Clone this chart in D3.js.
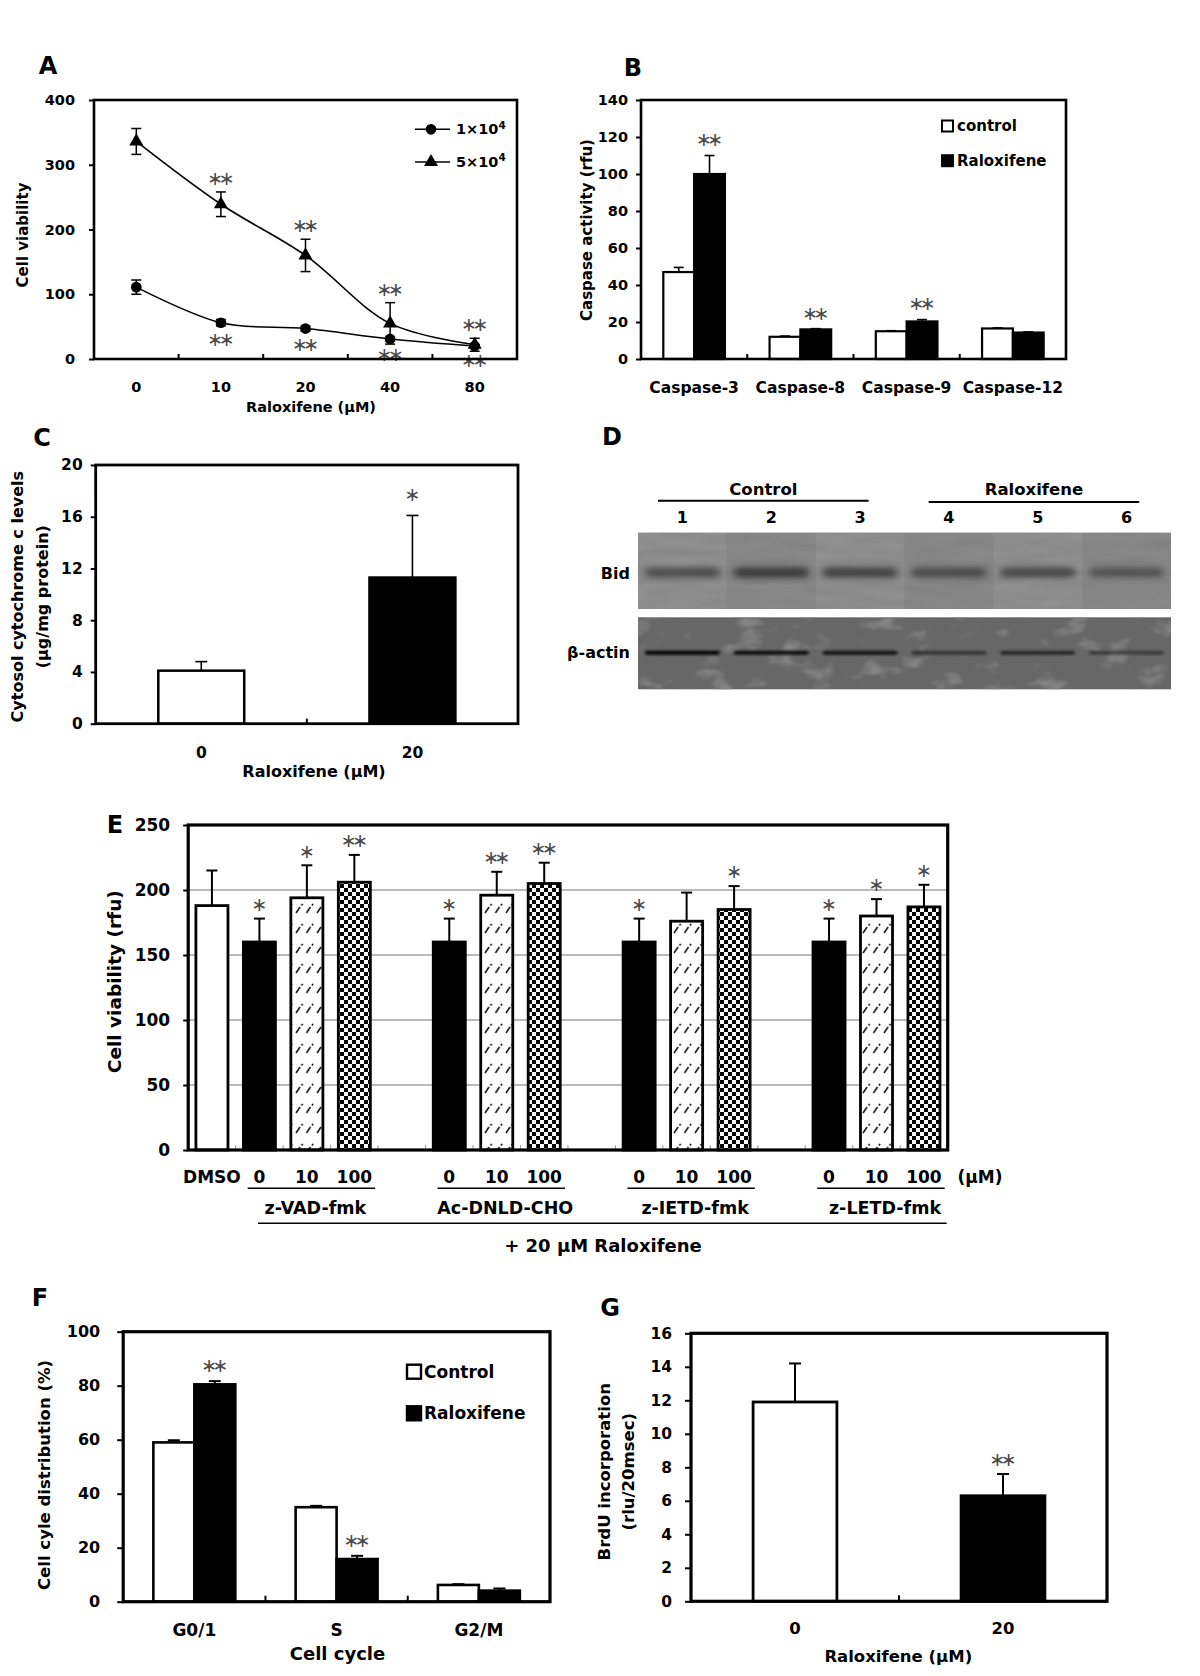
<!DOCTYPE html>
<html><head><meta charset="utf-8">
<script src="https://cdn.jsdelivr.net/npm/d3@7"></script>
<style>
body{margin:0;background:#fff}
text{font-family:"DejaVu Sans",sans-serif;font-weight:bold;fill:#000}
</style>
</head><body>
<svg id="fig" width="1200" height="1676" xmlns="http://www.w3.org/2000/svg"></svg>
<script>
// ---------------- DATA ----------------
// Panel A
const aDoses = ["0", "10", "20", "40", "80"];
const aLowDensity = [111, 56, 47, 31, 20];
const aLowDensityErr = [11, 5, 4, 3, 2];
const aHighDensity = [336, 239, 160, 55, 22];
const aHighDensityErr = [20, 19, 25, 32, 10];
const aHighSig = ["", "**", "**", "**", "**"];
const aLowSig = ["", "**", "**", "**", "**"];
const aTicks = [0, 100, 200, 300, 400];
const aLegend = ["1×10", "5×10"];

// Panel B
const bCats = ["Caspase-3", "Caspase-8", "Caspase-9", "Caspase-12"];
const bControl = [47, 12, 15, 16.5];
const bControlErr = [2.5, 0.4, 0.3, 0.3];
const bRalox = [100, 16, 20.3, 14.3];
const bRaloxErr = [10, 0.4, 1, 0.3];
const bSig = ["**", "**", "**", ""];
const bTicks = [0, 20, 40, 60, 80, 100, 120, 140];
const bLegend = ["control", "Raloxifene"];

// Panel C
const cCats = ["0", "20"];
const cVals = [4.1, 11.3];
const cErr = [0.7, 4.8];
const cSig = ["", "*"];
const cTicks = [0, 4, 8, 12, 16, 20];

// Panel D (western blot, relative band intensities)
const dLanes = ["1", "2", "3", "4", "5", "6"];
const dGroups = ["Control", "Raloxifene"];
const dBid = [0.72, 0.95, 0.85, 0.72, 0.78, 0.62];
const dActin = [1.0, 0.9, 0.85, 0.5, 0.65, 0.42];
const dRows = ["Bid", "β-actin"];

// Panel E
const eSlots = ["DMSO", "VAD-0", "VAD-10", "VAD-100", "gap1", "DNLD-0", "DNLD-10", "DNLD-100", "gap2",
                "IETD-0", "IETD-10", "IETD-100", "gap3", "LETD-0", "LETD-10", "LETD-100"];
const eLabels = ["DMSO", "0", "10", "100", "", "0", "10", "100", "", "0", "10", "100", "", "0", "10", "100"];
const eVals = [188, 160, 194, 206, null, 160, 196, 205, null, 160, 176, 185, null, 160, 180, 187];
const eErr = [27, 18, 25, 21, null, 18, 18, 16, null, 18, 22, 18, null, 18, 13, 17];
const eFill = ["white", "black", "hatch", "check", null, "black", "hatch", "check", null,
               "black", "hatch", "check", null, "black", "hatch", "check"];
const eSig = ["", "*", "*", "**", "", "*", "**", "**", "", "*", "", "*", "", "*", "*", "*"];
const eGroups = ["z-VAD-fmk", "Ac-DNLD-CHO", "z-IETD-fmk", "z-LETD-fmk"];
const eGroupSlots = [[1, 3], [5, 7], [9, 11], [13, 15]];
const eTicks = [0, 50, 100, 150, 200, 250];
const eGrid = [50, 100, 150, 200];

// Panel F
const fCats = ["G0/1", "S", "G2/M"];
const fControl = [59, 35, 6.2];
const fControlErr = [0.8, 0.5, 0.3];
const fRalox = [80.5, 15.8, 4.1];
const fRaloxErr = [1.2, 1.2, 0.8];
const fSig = ["**", "**", ""];
const fTicks = [0, 20, 40, 60, 80, 100];
const fLegend = ["Control", "Raloxifene"];

// Panel G
const gCats = ["0", "20"];
const gVals = [11.9, 6.3];
const gErr = [2.3, 1.3];
const gSig = ["", "**"];
const gTicks = [0, 2, 4, 6, 8, 10, 12, 14, 16];

// ---------------- HELPERS ----------------
const svg = d3.select("#fig");
svg.append("rect").attr("width", 1200).attr("height", 1676).attr("fill", "#fff");
const defs = svg.append("defs");

// patterns
const pc = defs.append("pattern").attr("id", "check").attr("width", 8).attr("height", 8).attr("patternUnits", "userSpaceOnUse");
pc.append("rect").attr("width", 8).attr("height", 8).attr("fill", "#fff");
pc.append("rect").attr("width", 4).attr("height", 4).attr("fill", "#000");
pc.append("rect").attr("x", 4).attr("y", 4).attr("width", 4).attr("height", 4).attr("fill", "#000");
const ph = defs.append("pattern").attr("id", "hatch").attr("width", 10.5).attr("height", 20).attr("patternUnits", "userSpaceOnUse");
ph.append("rect").attr("width", 10.5).attr("height", 20).attr("fill", "#fff");
ph.append("line").attr("x1", 2).attr("y1", 13).attr("x2", 6).attr("y2", 7).attr("stroke", "#000").attr("stroke-width", 1.4);
ph.append("line").attr("x1", 7.5).attr("y1", 5.5).attr("x2", 8.6).attr("y2", 3.8).attr("stroke", "#000").attr("stroke-width", 1.4);

// blot filters
const fb = defs.append("filter").attr("id", "bandBlur").attr("x", "-30%").attr("y", "-200%").attr("width", "160%").attr("height", "500%");
fb.append("feGaussianBlur").attr("stdDeviation", "4 3");
const fb2 = defs.append("filter").attr("id", "actinBlur").attr("x", "-30%").attr("y", "-200%").attr("width", "160%").attr("height", "500%");
fb2.append("feGaussianBlur").attr("stdDeviation", "1.5 1.1");
const fn = defs.append("filter").attr("id", "blotch").attr("x", 0).attr("y", 0).attr("width", 1).attr("height", 1)
  .attr("color-interpolation-filters", "sRGB");
fn.append("feTurbulence").attr("type", "fractalNoise").attr("baseFrequency", "0.03 0.05").attr("numOctaves", 3).attr("seed", 11).attr("result", "n");
fn.append("feColorMatrix").attr("in", "n").attr("type", "matrix")
  .attr("values", "0 0 0 0 0.52  0 0 0 0 0.52  0 0 0 0 0.52  0 0 0 4 -2.2").attr("result", "m");
fn.append("feComposite").attr("in", "m").attr("in2", "SourceGraphic").attr("operator", "in");
const fn2 = defs.append("filter").attr("id", "grain").attr("x", 0).attr("y", 0).attr("width", 1).attr("height", 1)
  .attr("color-interpolation-filters", "sRGB");
fn2.append("feTurbulence").attr("type", "fractalNoise").attr("baseFrequency", "0.02 0.12").attr("numOctaves", 2).attr("seed", 3).attr("result", "n");
fn2.append("feColorMatrix").attr("in", "n").attr("type", "matrix")
  .attr("values", "0 0 0 0 0.45  0 0 0 0 0.45  0 0 0 0 0.45  0 0 0 0.5 -0.12").attr("result", "m");
fn2.append("feComposite").attr("in", "m").attr("in2", "SourceGraphic").attr("operator", "in");

function label(g, txt, x, y, fs, opts = {}) {
  const t = g.append("text").attr("x", x).attr("y", y)
    .attr("text-anchor", opts.anchor || "middle").attr("dominant-baseline", "central")
    .style("font-size", fs + "px").style("font-weight", opts.weight || "bold").text(txt);
  if (opts.rotate) t.attr("transform", `rotate(-90,${x},${y})`);
  return t;
}
// significance marks: asterisk-operator glyph, vertically centred on the math axis
function stars(g, txt, x, cy, size = 19) {
  if (!txt) return;
  g.append("text").attr("x", x - 2.2).attr("y", cy + size * 0.31).attr("text-anchor", "middle")
    .style("font-family", "'DejaVu Sans', sans-serif").style("font-weight", "normal")
    .style("font-size", size + "px").style("fill", "#4a4a4a").style("letter-spacing", "-4.5px")
    .text(txt.replace(/\*/g, "∗"));
}
function yAxis(g, y, x, ticks, fs, size, pad) {
  const ax = g.append("g").attr("transform", `translate(${x},0)`)
    .call(d3.axisLeft(y).tickValues(ticks).tickSize(size).tickPadding(pad).tickFormat(d3.format("d")));
  ax.select(".domain").remove();
  ax.selectAll(".tick line").attr("stroke", "#000").attr("stroke-width", 2);
  ax.selectAll(".tick text").style("font-size", fs + "px").style("font-weight", "bold")
    .style("font-family", "'DejaVu Sans', sans-serif").attr("fill", "#000");
}
function frame(g, x0, y0, x1, y1, w) {
  g.append("rect").attr("x", x0).attr("y", y0).attr("width", x1 - x0).attr("height", y1 - y0)
    .attr("fill", "none").attr("stroke", "#000").attr("stroke-width", w);
}
function tickUp(g, x, y, len, color = "#000", w = 2) {
  g.append("line").attr("x1", x).attr("x2", x).attr("y1", y).attr("y2", y - len).attr("stroke", color).attr("stroke-width", w);
}
function errUp(g, x, yv, ye, cap, w = 1.6) {
  g.append("line").attr("x1", x).attr("x2", x).attr("y1", yv).attr("y2", ye).attr("stroke", "#000").attr("stroke-width", w);
  g.append("line").attr("x1", x - cap / 2).attr("x2", x + cap / 2).attr("y1", ye).attr("y2", ye).attr("stroke", "#000").attr("stroke-width", w);
}

// ---------------- PANEL A ----------------
{
  const g = svg.append("g");
  const x = d3.scaleBand().domain(aDoses).range([94, 517]);
  const y = d3.scaleLinear().domain([0, 400]).range([359, 100]);
  const cx = d => x(d) + x.bandwidth() / 2;
  label(g, "A", 48, 66, 24);
  yAxis(g, y, 94, aTicks, 14.5, 5, 14);
  aDoses.slice(1).forEach(d => tickUp(g, x(d), 359, 5));
  aDoses.forEach(d => label(g, d, cx(d), 386.7, 14.5));
  label(g, "Raloxifene (μM)", 311, 406.7, 14.5);
  label(g, "Cell viability", 23, 235, 15, { rotate: true });

  const series = [
    { vals: aLowDensity, err: aLowDensityErr, sym: d3.symbolCircle, size: 90 },
    { vals: aHighDensity, err: aHighDensityErr, sym: d3.symbolTriangle, size: 85 }
  ];
  const line = d3.line().x((v, i) => cx(aDoses[i])).y(v => y(v)).curve(d3.curveCatmullRom.alpha(0.5));
  series.forEach(s => {
    g.append("path").attr("d", line(s.vals)).attr("fill", "none").attr("stroke", "#000").attr("stroke-width", 1.6);
    s.vals.forEach((v, i) => {
      const xx = cx(aDoses[i]);
      errUp(g, xx, y(v), y(v + s.err[i]), 10, 1.5);
      errUp(g, xx, y(v), y(v - s.err[i]), 10, 1.5);
    });
    s.vals.forEach((v, i) => {
      g.append("path").attr("d", d3.symbol(s.sym, s.size)()).attr("transform", `translate(${cx(aDoses[i])},${y(v)})`).attr("fill", "#000");
    });
  });
  aHighSig.forEach((t, i) => stars(g, t, cx(aDoses[i]), y(aHighDensity[i] + aHighDensityErr[i]) - 13));
  aLowSig.forEach((t, i) => stars(g, t, cx(aDoses[i]), y(aLowDensity[i] - aLowDensityErr[i]) + 14));
  // legend
  series.forEach((s, i) => {
    const ly = [129.3, 162][i];
    g.append("line").attr("x1", 415).attr("x2", 450).attr("y1", ly).attr("y2", ly).attr("stroke", "#000").attr("stroke-width", 1.6);
    g.append("path").attr("d", d3.symbol(s.sym, s.size)()).attr("transform", `translate(431,${ly})`).attr("fill", "#000");
    const t = label(g, aLegend[i], 456, ly, 14.5, { anchor: "start" });
    t.append("tspan").attr("dy", "-0.45em").style("font-size", "10.5px").text("4");
  });
  frame(g, 94, 100, 517, 359, 2.6);
}

// ---------------- PANEL B ----------------
{
  const g = svg.append("g");
  const x = d3.scaleBand().domain(bCats).range([641, 1066]);
  const y = d3.scaleLinear().domain([0, 140]).range([359, 100]);
  const cx = d => x(d) + x.bandwidth() / 2;
  const bw = x.bandwidth() * 0.29;
  label(g, "B", 633, 68, 24);
  yAxis(g, y, 641, bTicks, 14.5, 5, 8);
  bCats.slice(1).forEach(d => tickUp(g, x(d), 359, 5));
  bCats.forEach(d => label(g, d, cx(d), 388.3, 15.5));
  label(g, "Caspase activity (rfu)", 586.7, 230, 15, { rotate: true });
  bCats.forEach((d, i) => {
    const c = cx(d);
    errUp(g, c - bw / 2, y(bControl[i]), y(bControl[i] + bControlErr[i]), 10);
    errUp(g, c + bw / 2, y(bRalox[i]), y(bRalox[i] + bRaloxErr[i]), 10);
    g.append("rect").attr("x", c - bw).attr("y", y(bControl[i])).attr("width", bw).attr("height", 359 - y(bControl[i]))
      .attr("fill", "#fff").attr("stroke", "#000").attr("stroke-width", 2.2);
    g.append("rect").attr("x", c).attr("y", y(bRalox[i])).attr("width", bw).attr("height", 359 - y(bRalox[i]))
      .attr("fill", "#000").attr("stroke", "#000").attr("stroke-width", 2.2);
    stars(g, bSig[i], c + bw / 2, y(bRalox[i] + bRaloxErr[i]) - 15);
  });
  bLegend.forEach((t, i) => {
    const ly = [126, 160.7][i];
    g.append("rect").attr("x", 942).attr("y", ly - 5.5).attr("width", 11).attr("height", 11)
      .attr("fill", i ? "#000" : "#fff").attr("stroke", "#000").attr("stroke-width", 2);
    label(g, t, 957, ly, 15, { anchor: "start" });
  });
  frame(g, 641, 100, 1066, 359, 2.6);
}

// ---------------- PANEL C ----------------
{
  const g = svg.append("g");
  const x = d3.scaleBand().domain(cCats).range([95.7, 518]);
  const y = d3.scaleLinear().domain([0, 20]).range([723.7, 465]);
  const cx = d => x(d) + x.bandwidth() / 2;
  const bw = x.bandwidth() * 0.407;
  label(g, "C", 42, 437.7, 24);
  yAxis(g, y, 95.7, cTicks, 15.5, 5, 8);
  tickUp(g, x(cCats[1]), 723.7, 5);
  cCats.forEach(d => label(g, d, cx(d), 753.3, 15.5));
  label(g, "Raloxifene (μM)", 314, 771.7, 16);
  label(g, "Cytosol cytochrome c levels", 18, 596.7, 16, { rotate: true });
  label(g, "(μg/mg protein)", 43, 596.7, 16, { rotate: true });
  cCats.forEach((d, i) => {
    const c = cx(d);
    errUp(g, c, y(cVals[i]), y(cVals[i] + cErr[i]), 12);
    g.append("rect").attr("x", c - bw / 2).attr("y", y(cVals[i])).attr("width", bw).attr("height", 723.7 - y(cVals[i]))
      .attr("fill", i ? "#000" : "#fff").attr("stroke", "#000").attr("stroke-width", 2.5);
    stars(g, cSig[i], c, y(cVals[i] + cErr[i]) - 20);
  });
  frame(g, 95.7, 465, 518, 723.7, 2.8);
}

// ---------------- PANEL D (blot) ----------------
{
  const g = svg.append("g");
  const x = d3.scaleBand().domain(dLanes).range([638, 1171]);
  const cx = d => x(d) + x.bandwidth() / 2;
  label(g, "D", 612, 436.7, 24);
  const grp = [[658, 868.6, 500.7], [928.7, 1139.2, 502]];
  dGroups.forEach((t, i) => {
    label(g, t, (grp[i][0] + grp[i][1]) / 2, 489.3, 16.5);
    g.append("line").attr("x1", grp[i][0]).attr("x2", grp[i][1]).attr("y1", grp[i][2]).attr("y2", grp[i][2]).attr("stroke", "#000").attr("stroke-width", 2);
  });
  dLanes.forEach(d => label(g, d, cx(d), 517.3, 16));
  // Bid panel
  g.append("rect").attr("x", 638).attr("y", 532.7).attr("width", 533).attr("height", 76.3).attr("fill", "#8e8e8e");
  dLanes.forEach((d, i) => {
    g.append("rect").attr("x", x(d)).attr("y", 532.7).attr("width", x.bandwidth()).attr("height", 76.3)
      .attr("fill", i % 2 ? "#868686" : "#939393").attr("opacity", 0.6);
  });
  g.append("rect").attr("x", 638).attr("y", 532.7).attr("width", 533).attr("height", 76.3).attr("fill", "#000").attr("filter", "url(#grain)");
  dLanes.forEach((d, i) => {
    g.append("rect").attr("x", cx(d) - x.bandwidth() * 0.42).attr("y", 567.5).attr("width", x.bandwidth() * 0.84).attr("height", 10)
      .attr("rx", 4).attr("fill", "#333").attr("opacity", dBid[i]).attr("filter", "url(#bandBlur)");
  });
  // actin panel
  g.append("rect").attr("x", 638).attr("y", 617.3).attr("width", 533).attr("height", 72).attr("fill", "#676767");
  g.append("rect").attr("x", 638).attr("y", 617.3).attr("width", 533).attr("height", 72).attr("fill", "#000").attr("filter", "url(#blotch)");
  dLanes.forEach((d, i) => {
    g.append("rect").attr("x", cx(d) - x.bandwidth() * 0.42).attr("y", 650.5).attr("width", x.bandwidth() * 0.84).attr("height", 4.5)
      .attr("rx", 2).attr("fill", "#111").attr("opacity", dActin[i]).attr("filter", "url(#actinBlur)");
  });
  label(g, dRows[0], 630, 573.3, 16, { anchor: "end" });
  label(g, dRows[1], 630, 652.7, 16, { anchor: "end" });
}

// ---------------- PANEL E ----------------
{
  const g = svg.append("g");
  const x = d3.scaleBand().domain(eSlots).range([188.2, 947.7]);
  const y = d3.scaleLinear().domain([0, 250]).range([1150, 825]);
  const cx = i => x(eSlots[i]) + x.bandwidth() / 2;
  const bw = x.bandwidth() * 0.675;
  label(g, "E", 115, 825, 24);
  eGrid.forEach(v => g.append("line").attr("x1", 188.2).attr("x2", 947.7).attr("y1", y(v)).attr("y2", y(v)).attr("stroke", "#777").attr("stroke-width", 1.2));
  yAxis(g, y, 188.2, eTicks, 17, 5, 13);
  eSlots.slice(1).forEach(s => tickUp(g, x(s), 1150, 5, "#999", 1));
  label(g, "Cell viability (rfu)", 115, 981.7, 18.5, { rotate: true });
  eVals.forEach((v, i) => {
    if (v === null) return;
    const c = cx(i);
    errUp(g, c, y(v), y(v + eErr[i]), 11, 2);
    const f = eFill[i] === "hatch" ? "url(#hatch)" : eFill[i] === "check" ? "url(#check)" : eFill[i] === "black" ? "#000" : "#fff";
    g.append("rect").attr("x", c - bw / 2).attr("y", y(v)).attr("width", bw).attr("height", 1150 - y(v))
      .attr("fill", f).attr("stroke", "#000").attr("stroke-width", 2.8);
    stars(g, eSig[i], c, y(v + eErr[i]) - 13.5);
  });
  eLabels.forEach((t, i) => { if (t) label(g, t, cx(i), 1176.7, 17); });
  label(g, "(μM)", 980, 1176.7, 17);
  eGroups.forEach((t, k) => {
    const [s0, s1] = eGroupSlots[k];
    const xa = x(eSlots[s0]) + 12, xb = x(eSlots[s1]) + x.bandwidth() - 3;
    g.append("line").attr("x1", xa).attr("x2", xb).attr("y1", 1188.3).attr("y2", 1188.3).attr("stroke", "#000").attr("stroke-width", 1.6);
    label(g, t, (xa + xb) / 2 + 4, 1208.3, 17.5);
  });
  g.append("line").attr("x1", 258).attr("x2", 946.7).attr("y1", 1223.3).attr("y2", 1223.3).attr("stroke", "#000").attr("stroke-width", 1.6);
  label(g, "+ 20 μM Raloxifene", 603, 1245, 18);
  frame(g, 188.2, 825, 947.7, 1150, 3.2);
}

// ---------------- PANEL F ----------------
{
  const g = svg.append("g");
  const x = d3.scaleBand().domain(fCats).range([123.2, 550]);
  const y = d3.scaleLinear().domain([0, 100]).range([1601.7, 1331.7]);
  const cx = d => x(d) + x.bandwidth() / 2;
  const bw = x.bandwidth() * 0.288;
  label(g, "F", 40, 1298, 24);
  yAxis(g, y, 123.2, fTicks, 16, 6, 17);
  fCats.slice(1).forEach(d => tickUp(g, x(d), 1601.7, 6));
  fCats.forEach(d => label(g, d, cx(d), 1630, 17));
  label(g, "Cell cycle", 337.5, 1653.3, 18);
  label(g, "Cell cyle distribution (%)", 44.6, 1475, 16.5, { rotate: true });
  fCats.forEach((d, i) => {
    const c = cx(d);
    errUp(g, c - bw / 2, y(fControl[i]), y(fControl[i] + fControlErr[i]), 12, 2);
    errUp(g, c + bw / 2, y(fRalox[i]), y(fRalox[i] + fRaloxErr[i]), 12, 2);
    g.append("rect").attr("x", c - bw).attr("y", y(fControl[i])).attr("width", bw).attr("height", 1601.7 - y(fControl[i]))
      .attr("fill", "#fff").attr("stroke", "#000").attr("stroke-width", 2.6);
    g.append("rect").attr("x", c).attr("y", y(fRalox[i])).attr("width", bw).attr("height", 1601.7 - y(fRalox[i]))
      .attr("fill", "#000").attr("stroke", "#000").attr("stroke-width", 2.6);
    stars(g, fSig[i], c + bw / 2, y(fRalox[i] + fRaloxErr[i]) - 15);
  });
  fLegend.forEach((t, i) => {
    const ly = [1371.7, 1413.3][i];
    g.append("rect").attr("x", 407).attr("y", ly - 7).attr("width", 14).attr("height", 14)
      .attr("fill", i ? "#000" : "#fff").attr("stroke", "#000").attr("stroke-width", 2.4);
    label(g, t, 424, ly, 17, { anchor: "start" });
  });
  frame(g, 123.2, 1331.7, 550, 1601.7, 3.2);
}

// ---------------- PANEL G ----------------
{
  const g = svg.append("g");
  const x = d3.scaleBand().domain(gCats).range([691, 1107]);
  const y = d3.scaleLinear().domain([0, 16]).range([1601.3, 1333.3]);
  const cx = d => x(d) + x.bandwidth() / 2;
  const bw = x.bandwidth() * 0.403;
  label(g, "G", 610, 1308, 24);
  yAxis(g, y, 691, gTicks, 15.5, 6, 13);
  tickUp(g, x(gCats[1]), 1601.3, 6);
  gCats.forEach(d => label(g, d, cx(d), 1628.3, 16.5));
  label(g, "Raloxifene (μM)", 898.3, 1656.7, 16.5);
  label(g, "BrdU incorporation", 605, 1471.7, 16.5, { rotate: true });
  label(g, "(rlu/20msec)", 628.3, 1471.7, 16.5, { rotate: true });
  gCats.forEach((d, i) => {
    const c = cx(d);
    errUp(g, c, y(gVals[i]), y(gVals[i] + gErr[i]), 12, 2);
    g.append("rect").attr("x", c - bw / 2).attr("y", y(gVals[i])).attr("width", bw).attr("height", 1601.3 - y(gVals[i]))
      .attr("fill", i ? "#000" : "#fff").attr("stroke", "#000").attr("stroke-width", 2.8);
    stars(g, gSig[i], c, y(gVals[i] + gErr[i]) - 14);
  });
  frame(g, 691, 1333.3, 1107, 1601.3, 3.2);
}
</script>
</body></html>
